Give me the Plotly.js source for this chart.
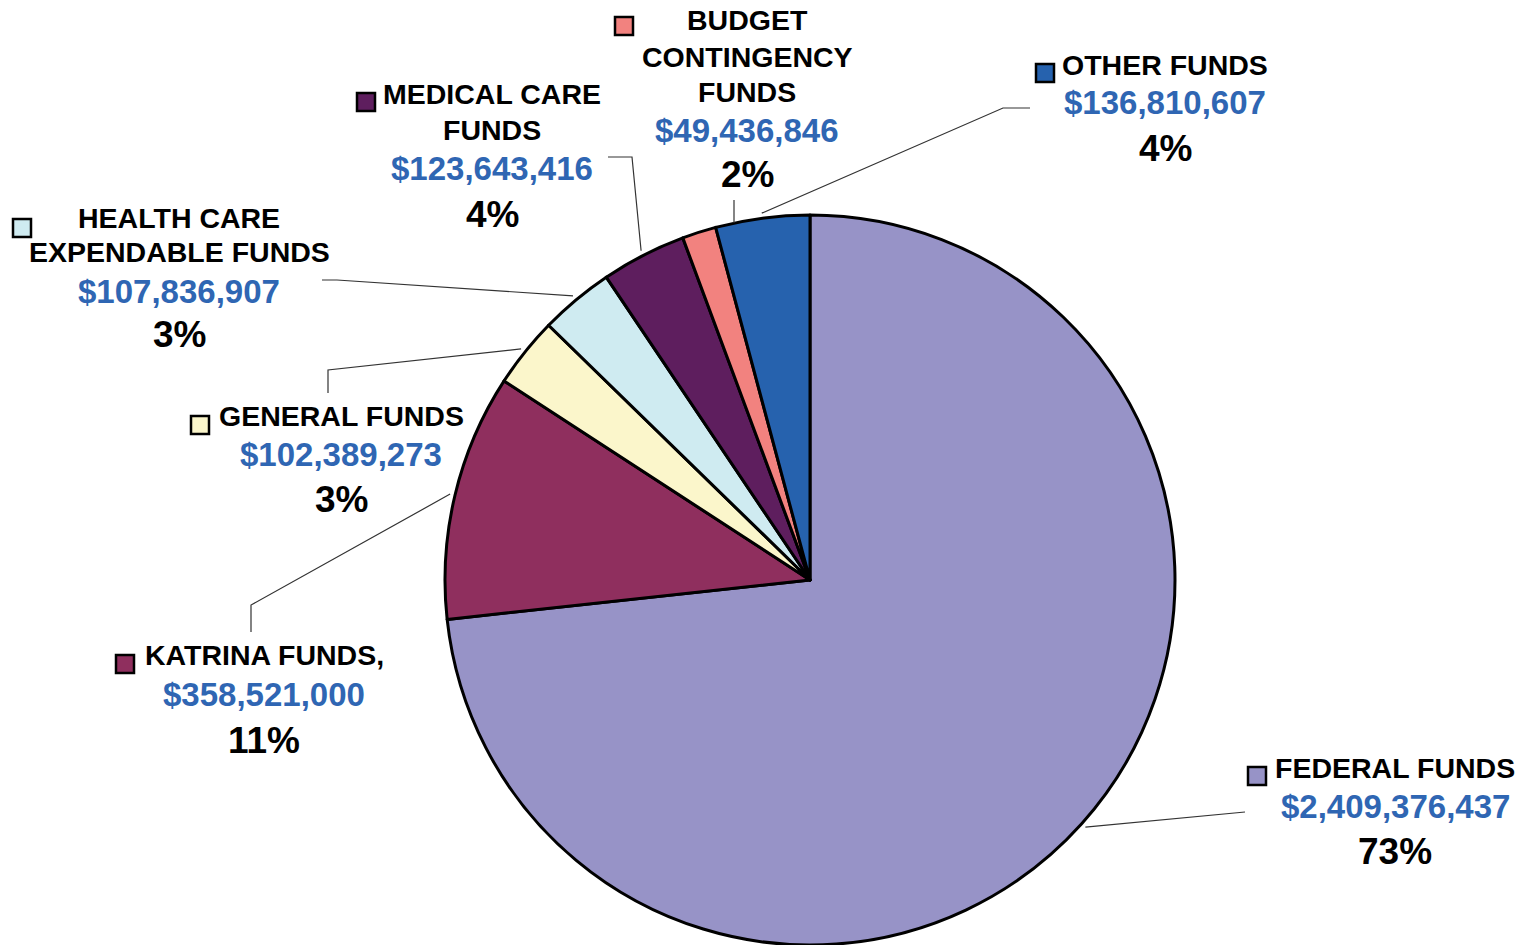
<!DOCTYPE html>
<html>
<head>
<meta charset="utf-8">
<script src="https://cdn.plot.ly/plotly-3.0.1.min.js"></script>
<style>html,body{margin:0;padding:0;background:#fff;}#chart{width:1526px;height:945px;}</style>
</head>
<body>
<div id="chart"></div>
<script>
// ---- data ----
const categories = ["FEDERAL FUNDS", "KATRINA FUNDS,", "GENERAL FUNDS", "HEALTH CARE<br>EXPENDABLE FUNDS", "MEDICAL CARE<br>FUNDS", "BUDGET<br>CONTINGENCY<br>FUNDS", "OTHER FUNDS"];
const amounts = [2409376437, 358521000, 102389273, 107836907, 123643416, 49436846, 136810607];
const colors = ["#9793C7", "#8F2F5E", "#FBF6CB", "#CFEBF1", "#5E1E5E", "#F2827F", "#2662AE"];

// ---- layout helpers ----
const W = 1526, H = 945;
const CX = 810, CY = 580, R = 365;
const px = x => x / W, py = y => 1 - y / H;

// label placement (pixel positions, styling only)
const labelPos = [
  {cx: 1395, lines: [768], val: 806, pct: 851, sq: [1257, 776], elbow: [[1245, 812]], rim: 'mid'},
  {cx: 264, lines: [655], val: 694, pct: 740, sq: [125, 664], elbow: [[251, 632], [251, 605]], rim: 'mid'},
  {cx: 341, lines: [416], val: 455, pct: 499, sq: [200, 425], elbow: [[328, 393], [328, 370]], rim: 'mid'},
  {cx: 179, lines: [218, 252], val: 291, pct: 335, sq: [22, 228], elbow: [[322, 280], [337, 280]], rim: 'mid'},
  {cx: 492, lines: [94, 130], val: 169, pct: 215, sq: [366, 102], elbow: [[608, 157], [632, 157]], rim: 'mid'},
  {cx: 747, lines: [20, 57, 92], val: 130, pct: 174, sq: [624, 26], elbow: [[734, 200]], rim: 'vertical'},
  {cx: 1165, lines: [65], val: 103, pct: 148, sq: [1045, 73], elbow: [[1030, 108], [1003, 108]], rim: 'mid'}
];

const total = amounts.reduce((a, b) => a + b, 0);
const annotations = [];
const shapes = [];
let cum = 0;
const nameFont = {family: "Liberation Sans, Arial, sans-serif", size: 28.5, color: "#000", weight: 700};
const valFont = {family: "Liberation Sans, Arial, sans-serif", size: 33, color: "#2F66B3", weight: 700};
const pctFont = {family: "Liberation Sans, Arial, sans-serif", size: 37, color: "#000", weight: 700};

categories.forEach((name, i) => {
  const frac = amounts[i] / total;
  const mid = (cum + frac / 2) * 2 * Math.PI;
  cum += frac;
  const L = labelPos[i];
  name.split("<br>").forEach((line, k) => {
    annotations.push({xref: 'paper', yref: 'paper', x: px(L.cx), y: py(L.lines[k]), xanchor: 'center', yanchor: 'middle',
      text: '<b>' + line + '</b>', showarrow: false, font: nameFont});
  });
  annotations.push({xref: 'paper', yref: 'paper', x: px(L.cx), y: py(L.val), xanchor: 'center', yanchor: 'middle',
    text: '$' + amounts[i].toLocaleString('en-US'), showarrow: false, font: valFont});
  annotations.push({xref: 'paper', yref: 'paper', x: px(L.cx), y: py(L.pct), xanchor: 'center', yanchor: 'middle',
    text: '<b>' + Math.round(frac * 100) + '%</b>', showarrow: false, font: pctFont});
  // legend-like square
  const s = 9;
  shapes.push({type: 'rect', xref: 'paper', yref: 'paper', x0: px(L.sq[0] - s), x1: px(L.sq[0] + s), y0: py(L.sq[1] - s), y1: py(L.sq[1] + s),
    fillcolor: colors[i], line: {color: '#000', width: 2.5}});
  // leader line
  let end;
  if (L.rim === 'vertical') {
    const x = L.elbow[L.elbow.length - 1][0];
    end = [x, CY - Math.sqrt(R * R - (x - CX) * (x - CX))];
  } else {
    const rr = R + 5;
    end = [CX + rr * Math.sin(mid), CY - rr * Math.cos(mid)];
  }
  const pts = L.elbow.concat([end]);
  const path = pts.map((p, k) => (k === 0 ? 'M' : 'L') + px(p[0]) + ',' + py(p[1])).join(' ');
  shapes.push({type: 'path', xref: 'paper', yref: 'paper', path: path, line: {color: '#333', width: 1.2}});
});

const trace = {
  type: 'pie',
  labels: categories,
  values: amounts,
  sort: false,
  direction: 'clockwise',
  rotation: 0,
  marker: {colors: colors, line: {color: '#000', width: 3}},
  textinfo: 'none',
  hoverinfo: 'none',
  showlegend: false,
  domain: {x: [px(CX - R), px(CX + R)], y: [py(CY + R), py(CY - R)]}
};

const layout = {
  width: W, height: H,
  margin: {l: 0, r: 0, t: 0, b: 0},
  paper_bgcolor: '#fff',
  plot_bgcolor: '#fff',
  showlegend: false,
  annotations: annotations,
  shapes: shapes
};

Plotly.newPlot('chart', [trace], layout, {displayModeBar: false, staticPlot: true});
</script>
</body>
</html>
